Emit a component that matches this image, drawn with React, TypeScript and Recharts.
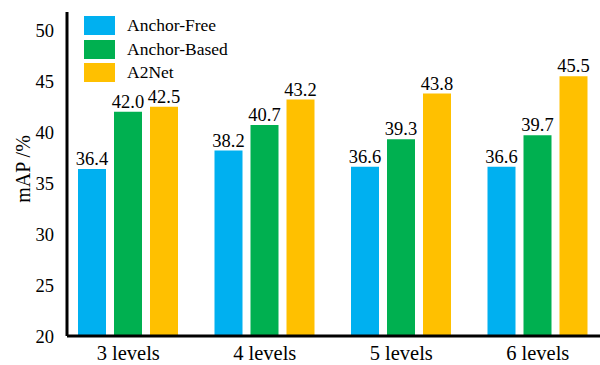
import React from 'react';
import { BarChart, Bar, XAxis, YAxis, Legend, LabelList } from 'recharts';

const categories = ['3 levels', '4 levels', '5 levels', '6 levels'];
const anchorFree = [36.4, 38.2, 36.6, 36.6];
const anchorBased = [42.0, 40.7, 39.3, 39.7];
const a2net = [42.5, 43.2, 43.8, 45.5];
const yTicks = [20, 25, 30, 35, 40, 45, 50];

const seriesNames = ['Anchor-Free', 'Anchor-Based', 'A2Net'];
const seriesColors = ['#00B0F0', '#00B050', '#FFC000'];

const data = categories.map((c, i) => ({
  category: c,
  af: anchorFree[i],
  ab: anchorBased[i],
  a2: a2net[i],
}));

const FONT = "'Liberation Serif', 'Times New Roman', serif";

const LegendContent = () => (
  <div style={{ fontFamily: FONT, fontSize: 17.5, color: '#000' }}>
    {seriesNames.map((n, i) => (
      <div key={n} style={{ display: 'flex', alignItems: 'center', height: 23.5 }}>
        <div style={{ width: 31, height: 19, background: seriesColors[i], marginRight: 12 }} />
        <span style={{ lineHeight: '19px' }}>{n}</span>
      </div>
    ))}
  </div>
);

const fmt = (v: any) => Number(v).toFixed(1);

const XTick = (props: any) => (
  <text x={props.x} y={props.y} dy="0.71em" textAnchor="middle" fill="#000" style={{ fontFamily: FONT, fontSize: 20.5 }}>
    {props.payload.value}
  </text>
);

const YTick = (props: any) => (
  <text x={props.x} y={props.y} dy="0.355em" textAnchor="end" fill="#000" style={{ fontFamily: FONT, fontSize: 18.5 }}>
    {props.payload.value}
  </text>
);

const BarLabel = (props: any) => {
  const { x, y, width, value } = props;
  return (
    <text x={Number(x) + Number(width) / 2} y={Number(y) - 4} textAnchor="middle" fill="#000" style={{ fontFamily: FONT, fontSize: 18.5 }}>
      {fmt(value)}
    </text>
  );
};

export default function App() {
  return (
    <div style={{ position: 'absolute', left: 0, top: 0, width: 600, height: 365, background: '#fff', fontFamily: FONT }}>
      <BarChart
        width={600}
        height={365}
        data={data}
        margin={{ top: 12, right: 0, bottom: 0, left: 0 }}
        barSize={28}
        barGap={8}
      >
        <XAxis
          dataKey="category"
          height={29}
          padding={{ left: -7, right: -6 }}
          axisLine={{ stroke: '#000', strokeWidth: 3 }}
          tickLine={false}
          tickSize={6}
          tickMargin={3}
          tick={<XTick />}
        />
        <YAxis
          width={67}
          domain={[20, 51.8]}
          ticks={yTicks}
          allowDataOverflow
          axisLine={{ stroke: '#000', strokeWidth: 3 }}
          tickLine={false}
          tickSize={6}
          tickMargin={7}
          tick={<YTick />}
          label={{
            content: () => (
              <text
                x={30}
                y={169}
                transform="rotate(-90 30 169)"
                textAnchor="middle"
                style={{ fontFamily: FONT, fontSize: 20 }}
                fill="#000"
              >
                mAP /%
              </text>
            ),
          }}
        />
        <Legend
          layout="vertical"
          align="center"
          verticalAlign="middle"
          content={<LegendContent />}
          wrapperStyle={{ left: 84, top: 14, width: 'auto', height: 'auto' }}
        />
        <Bar dataKey="af" name={seriesNames[0]} fill={seriesColors[0]} isAnimationActive={false}>
          <LabelList dataKey="af" content={<BarLabel />} />
        </Bar>
        <Bar dataKey="ab" name={seriesNames[1]} fill={seriesColors[1]} isAnimationActive={false}>
          <LabelList dataKey="ab" content={<BarLabel />} />
        </Bar>
        <Bar dataKey="a2" name={seriesNames[2]} fill={seriesColors[2]} isAnimationActive={false}>
          <LabelList dataKey="a2" content={<BarLabel />} />
        </Bar>
      </BarChart>
    </div>
  );
}
